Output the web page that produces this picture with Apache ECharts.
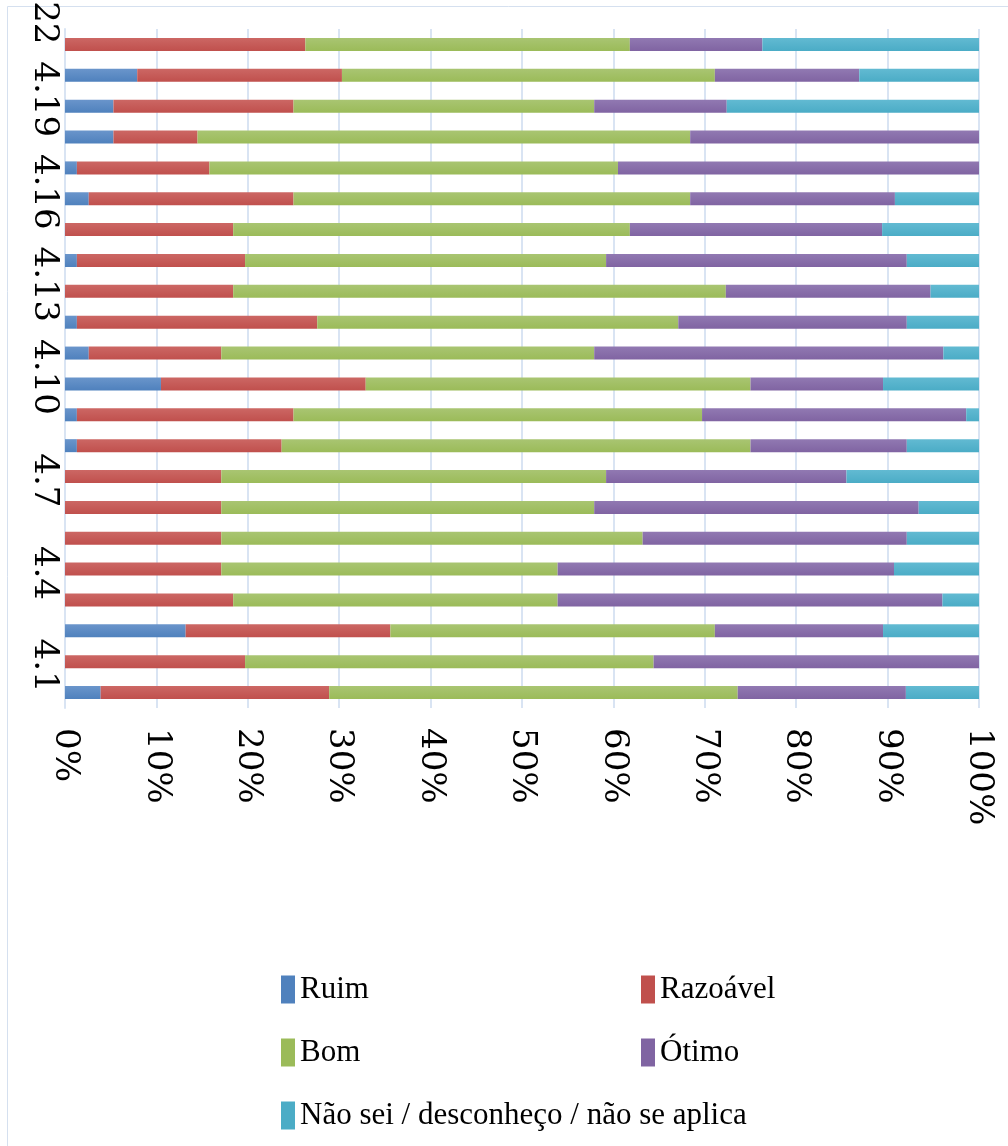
<!DOCTYPE html>
<html>
<head>
<meta charset="utf-8">
<script src="https://cdn.jsdelivr.net/npm/echarts@6/dist/echarts.min.js"></script>
<style>
html,body{margin:0;padding:0;background:#fff;}
#chart{width:1008px;height:1146px;}
</style>
</head>
<body>
<div id="chart"></div>
<script>
var categories = ['4.1','4.2','4.3','4.4','4.5','4.6','4.7','4.8','4.9','4.10','4.11','4.12','4.13','4.14','4.15','4.16','4.17','4.18','4.19','4.20','4.21','4.22'];
var xTickLabels = ['0%','10%','20%','30%','40%','50%','60%','70%','80%','90%','100%'];
var seriesNames = ['Ruim','Razoável','Bom','Ótimo','Não sei / desconheço / não se aplica'];
var ruim     = [3.9,0,13.2,0,0,0,0,0,1.3,1.3,10.5,2.6,1.3,0,1.3,0,2.6,1.3,5.3,5.3,7.9,0];
var razoavel = [25.0,19.7,22.4,18.4,17.1,17.1,17.1,17.1,22.4,23.7,22.4,14.5,26.3,18.4,18.4,18.4,22.4,14.5,9.2,19.7,22.4,26.3];
var bom      = [44.7,44.7,35.5,35.5,36.8,46.1,40.8,42.1,51.3,44.7,42.1,40.8,39.5,53.9,39.5,43.4,43.4,44.7,53.9,32.9,40.8,35.5];
var otimo    = [18.4,35.6,18.4,42.1,36.8,28.9,35.5,26.3,17.1,28.9,14.5,38.2,25.0,22.4,32.9,27.6,22.4,39.5,31.6,14.5,15.8,14.5];
var naoSei   = [8.0,0,10.5,4.0,9.3,7.9,6.6,14.5,7.9,1.4,10.5,3.9,7.9,5.3,7.9,10.6,9.2,0,0,27.6,13.1,23.7];

var baseColors = ['#4F81BD','#C0504D','#9BBB59','#8064A2','#4BACC6'];
var lightColors = ['#6A95CB','#CC6764','#A9C572','#9179B2','#62BAD2'];
function grad(i){
  return new echarts.graphic.LinearGradient(0,0,0,1,[{offset:0,color:lightColors[i]},{offset:1,color:baseColors[i]}]);
}
var values = [ruim, razoavel, bom, otimo, naoSei];
var series = values.map(function(v,i){
  return {name:seriesNames[i], type:'bar', stack:'total', barWidth:13, data:v,
    itemStyle:{color:grad(i)}, emphasis:{disabled:true}};
});
var legendPos = [[281,974],[641,974],[281,1037],[641,1037],[281,1100]];
var legends = seriesNames.map(function(n,i){
  return {data:[{name:n, itemStyle:{color:baseColors[i]}}], left:legendPos[i][0], top:legendPos[i][1], padding:0,
    itemWidth:14, itemHeight:28, icon:'rect', selectedMode:false,
    textStyle:{fontFamily:"'Liberation Serif', serif", fontSize:31, color:'#000'}};
});

var chart = echarts.init(document.getElementById('chart'), null, {renderer:'canvas'});
chart.setOption({
  animation:false,
  backgroundColor:'#fff',
  graphic:[{type:'rect', shape:{x:7.5,y:6.5,width:1010,height:1150}, style:{fill:null, stroke:'#D5E0EF', lineWidth:1}, silent:true}],
  grid:{left:65, right:29, top:29, bottom:438, containLabel:false, outerBoundsMode:'none'},
  legend:legends,
  xAxis:{type:'value', min:0, max:100, interval:10,
    axisLine:{show:false}, axisTick:{show:false},
    splitLine:{show:true, lineStyle:{color:'#D9E4F3', width:2}},
    axisLabel:{rotate:-90, align:'left', verticalAlign:'middle', margin:20,
      fontFamily:"'DejaVu Serif', serif", fontSize:34, color:'#000',
      formatter:function(v){ return xTickLabels[Math.round(v/10)]; }}},
  yAxis:{type:'category', data:categories,
    axisLine:{show:true, lineStyle:{color:'#D9E4F3', width:2}},
    axisTick:{show:false},
    axisLabel:{interval:2, rotate:-90, align:'right', verticalAlign:'middle', margin:21,
      fontFamily:"'DejaVu Serif', serif", fontSize:34, color:'#000'}},
  series:series
});
</script>
</body>
</html>
